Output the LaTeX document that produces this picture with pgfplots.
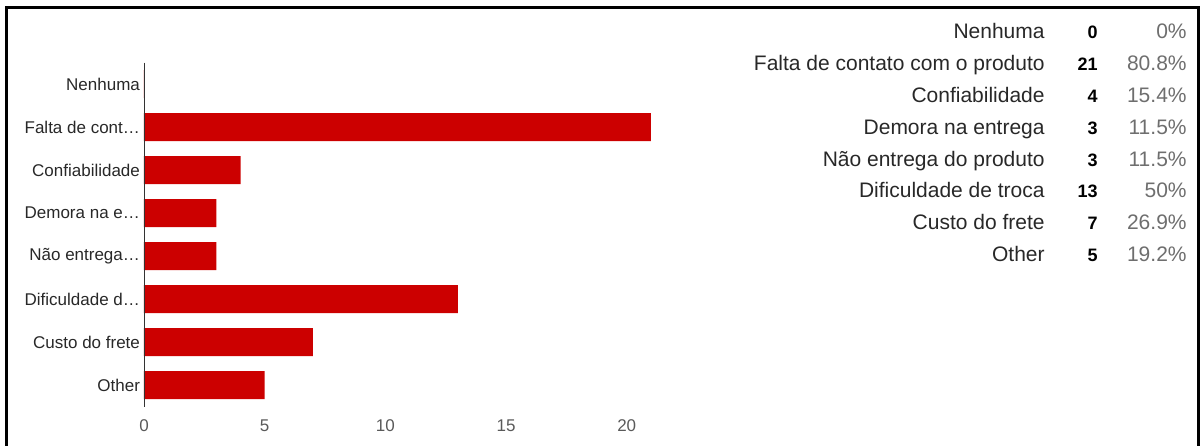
\documentclass[border=0pt]{standalone}
\usepackage{pgfplots}
\pgfplotsset{compat=1.18}
\usepackage{fontspec}
\setmainfont{Liberation Sans}
\definecolor{barred}{RGB}{204,0,0}
\definecolor{lbl}{RGB}{40,40,40}
\definecolor{tickgray}{RGB}{90,90,90}
\definecolor{pctgray}{RGB}{110,110,110}
\begin{document}
\begin{tikzpicture}[x=0.5pt,y=0.5pt]
\useasboundingbox (0,0) rectangle (1200,445);
\begin{axis}[
  at={(72pt,19.25pt)}, anchor=south west,
  scale only axis, width=265.5pt, height=172pt,
  xbar, bar width=14pt,
  xmin=0, xmax=22, ymin=-0.5, ymax=7.5,
  y dir=reverse,
  ytick={0,1,2,3,4,5,6,7},
  yticklabels={Nenhuma,Falta de cont…,Confiabilidade,Demora na e…,Não entrega…,Dificuldade d…,Custo do frete,Other},
  xtick={0,5,10,15,20},
  major tick length=0pt,
  axis line style={draw=none},
  ticklabel style={font=\fontsize{8.5pt}{10pt}\selectfont},
  yticklabel style={color=lbl, xshift=1.5pt},
  xticklabel style={color=tickgray, yshift=-3pt},
  /pgf/number format/assume math mode=true,
  clip=false,
]
\addplot[fill=barred, draw=none] coordinates {(0,0) (21,1) (4,2) (3,3) (3,4) (13,5) (7,6) (5,7)};
\draw[black!80] (axis cs:0,-0.5) -- (axis cs:0,7.5);
\end{axis}
% border
\draw[line width=1.5pt] (6.5,-20) -- (6.5,437.5) -- (1198.5,437.5) -- (1198.5,-20);
% table
\begin{scope}[font=\fontsize{10.5pt}{12pt}\selectfont]
\foreach \lab/\cnt/\pct [count=\i from 0] in {Nenhuma/0/0\%,Falta de contato com o produto/21/80.8\%,Confiabilidade/4/15.4\%,Demora na entrega/3/11.5\%,Não entrega do produto/3/11.5\%,Dificuldade de troca/13/50\%,Custo do frete/7/26.9\%,Other/5/19.2\%}{
  \pgfmathsetmacro{\yy}{445-39-31.8*\i}
  \node[anchor=base east, inner sep=0pt, text=lbl] at (1045,\yy) {\lab};
  \node[anchor=base east, inner sep=0pt, text=black, font=\fontsize{9pt}{10pt}\selectfont\bfseries] at (1098,\yy) {\cnt};
  \node[anchor=base east, inner sep=0pt, text=pctgray] at (1187,\yy) {\pct};
}
\end{scope}
\end{tikzpicture}
\end{document}
